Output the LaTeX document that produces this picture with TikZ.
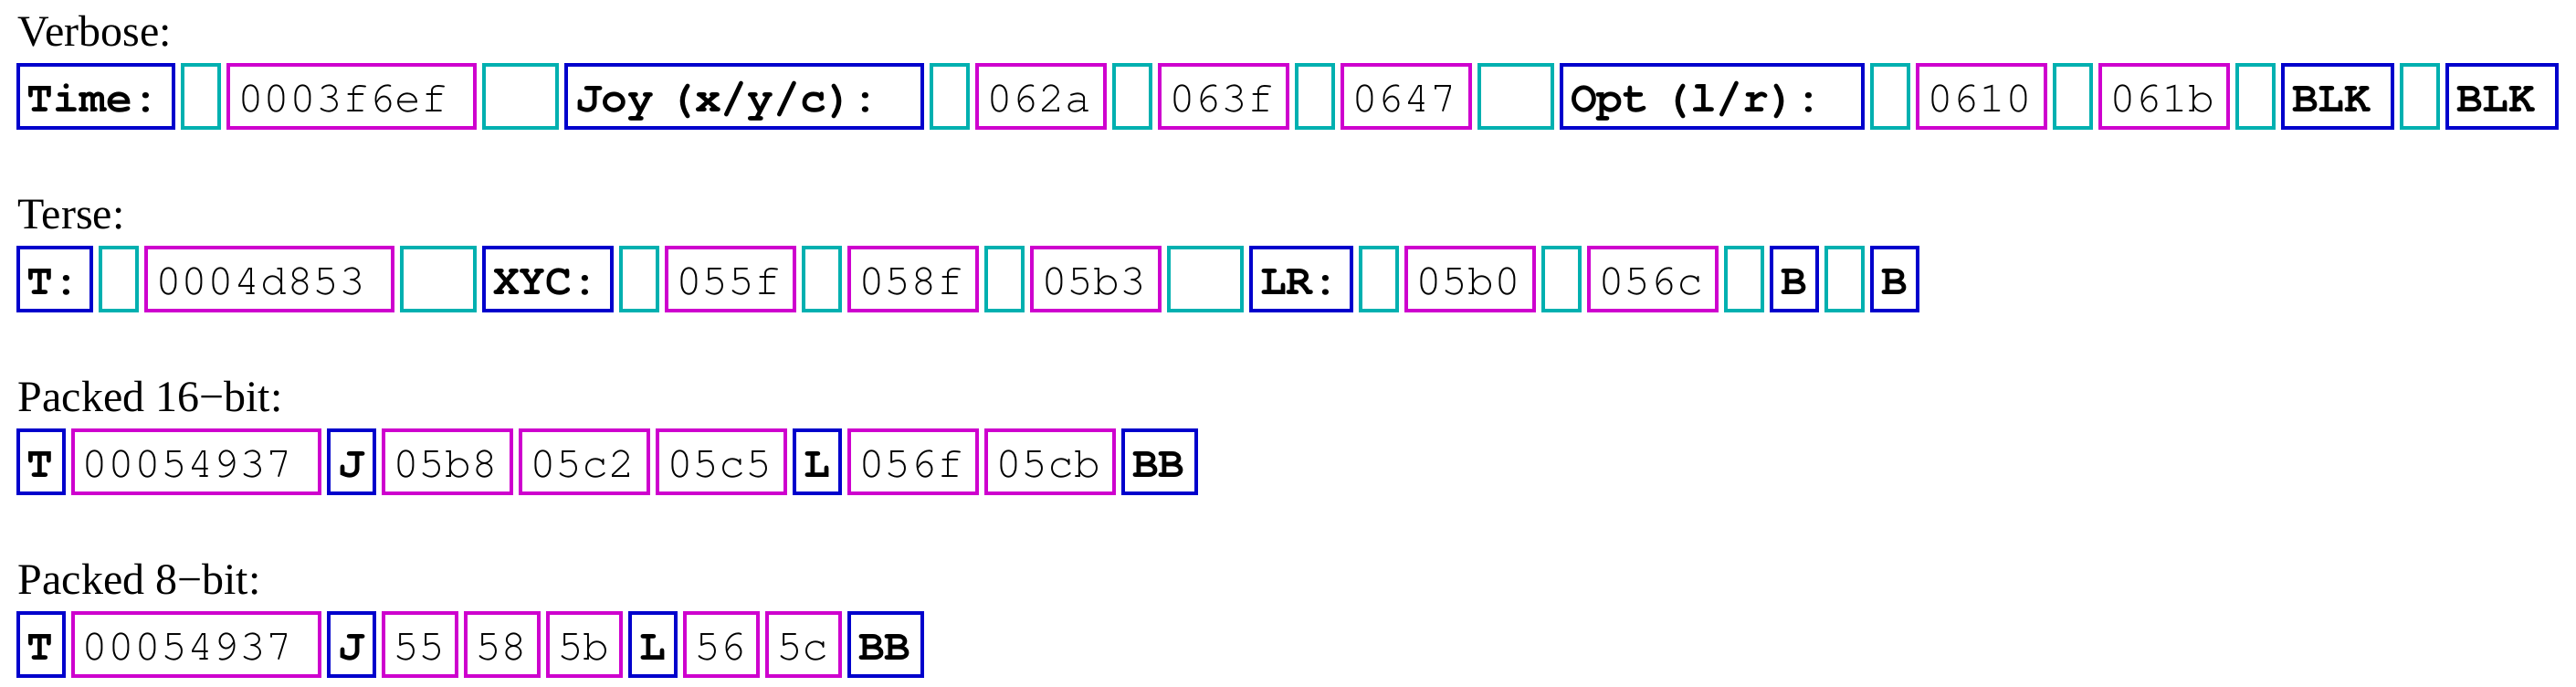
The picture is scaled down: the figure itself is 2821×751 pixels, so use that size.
\documentclass[tikz,border=0pt]{standalone}
\usepackage{fontspec}
\setmainfont{Liberation Serif}
\setmonofont{TeX Gyre Cursor}
\usepackage{xcolor}
\usetikzlibrary{positioning}
\definecolor{keyblue}{RGB}{0,0,204}
\definecolor{valmag}{RGB}{206,0,206}
\definecolor{sepcyan}{RGB}{0,176,176}
\tikzset{
	cell/.style={
			draw, line width=1pt, inner xsep=2.5pt, inner ysep=0pt,
			text height=12.75pt, text depth=4.5pt, align=left,
			font=\fontsize{12}{14}\selectfont\ttfamily,
			/utils/exec={\pgfmathsetmacro\cellwd{(#1-24)/4}},
			text width=\cellwd pt
		},
	key/.style={cell=#1, draw=keyblue, font=\fontsize{12}{14}\selectfont\ttfamily\bfseries},
	val/.style={cell=#1, draw=valmag},
	gap/.style={cell=#1, draw=sepcyan},
	head/.style={anchor=base west, inner sep=0pt, font=\fontsize{12}{14}\selectfont}
}

\begin{document}
\begin{tikzpicture}[x=0.25pt, y=-0.25pt]
			\useasboundingbox (0,0) rectangle (2821,751);
			% verbose
			\node[head] (verbose) at (19,50) {Verbose:};
			\node[key=174, anchor=west] (v1) at (18,105.5) {Time:};
			\node[gap=44, right=1.5pt of v1] (v2) {};
			\node[val=274, right=1.5pt of v2] (v3) {0003f6ef};
			\node[gap=84, right=1.5pt of v3] (v4) {};
			\node[key=394, right=1.5pt of v4] (v5) {Joy (x/y/c):};
			\node[gap=44, right=1.5pt of v5] (v6) {};
			\node[val=144, right=1.5pt of v6] (v7) {062a};
			\node[gap=44, right=1.5pt of v7] (v8) {};
			\node[val=144, right=1.5pt of v8] (v9) {063f};
			\node[gap=44, right=1.5pt of v9] (v10) {};
			\node[val=144, right=1.5pt of v10] (v11) {0647};
			\node[gap=84, right=1.5pt of v11] (v12) {};
			\node[key=334, right=1.5pt of v12] (v13) {Opt (l/r):};
			\node[gap=44, right=1.5pt of v13] (v14) {};
			\node[val=144, right=1.5pt of v14] (v15) {0610};
			\node[gap=44, right=1.5pt of v15] (v16) {};
			\node[val=144, right=1.5pt of v16] (v17) {061b};
			\node[gap=44, right=1.5pt of v17] (v18) {};
			\node[key=124, right=1.5pt of v18] (v19) {BLK};
			\node[gap=44, right=1.5pt of v19] (v20) {};
			\node[key=124, right=1.5pt of v20] (v21) {BLK};
			% terse
			\node[head] (terse) at (19,250) {Terse:};
			\node[key=84, anchor=west] (t1) at (18,305.5) {T:};
			\node[gap=44, right=1.5pt of t1] (t2) {};
			\node[val=274, right=1.5pt of t2] (t3) {0004d853};
			\node[gap=84, right=1.5pt of t3] (t4) {};
			\node[key=144, right=1.5pt of t4] (t5) {XYC:};
			\node[gap=44, right=1.5pt of t5] (t6) {};
			\node[val=144, right=1.5pt of t6] (t7) {055f};
			\node[gap=44, right=1.5pt of t7] (t8) {};
			\node[val=144, right=1.5pt of t8] (t9) {058f};
			\node[gap=44, right=1.5pt of t9] (t10) {};
			\node[val=144, right=1.5pt of t10] (t11) {05b3};
			\node[gap=84, right=1.5pt of t11] (t12) {};
			\node[key=114, right=1.5pt of t12] (t13) {LR:};
			\node[gap=44, right=1.5pt of t13] (t14) {};
			\node[val=144, right=1.5pt of t14] (t15) {05b0};
			\node[gap=44, right=1.5pt of t15] (t16) {};
			\node[val=144, right=1.5pt of t16] (t17) {056c};
			\node[gap=44, right=1.5pt of t17] (t18) {};
			\node[key=54, right=1.5pt of t18] (t19) {B};
			\node[gap=44, right=1.5pt of t19] (t20) {};
			\node[key=54, right=1.5pt of t20] (t21) {B};
			% packed 16-bit
			\node[head] (packsix) at (19,450) {Packed 16−bit:};
			\node[key=54, anchor=west] (p1) at (18,505.5) {T};
			\node[val=274, right=1.5pt of p1] (p2) {00054937};
			\node[key=54, right=1.5pt of p2] (p3) {J};
			\node[val=144, right=1.5pt of p3] (p4) {05b8};
			\node[val=144, right=1.5pt of p4] (p5) {05c2};
			\node[val=144, right=1.5pt of p5] (p6) {05c5};
			\node[key=54, right=1.5pt of p6] (p7) {L};
			\node[val=144, right=1.5pt of p7] (p8) {056f};
			\node[val=144, right=1.5pt of p8] (p9) {05cb};
			\node[key=84, right=1.5pt of p9] (p10) {BB};
			% packed 8-bit
			\node[head] (packeight) at (19,650) {Packed 8−bit:};
			\node[key=54, anchor=west] (q1) at (18,705.5) {T};
			\node[val=274, right=1.5pt of q1] (q2) {00054937};
			\node[key=54, right=1.5pt of q2] (q3) {J};
			\node[val=84, right=1.5pt of q3] (q4) {55};
			\node[val=84, right=1.5pt of q4] (q5) {58};
			\node[val=84, right=1.5pt of q5] (q6) {5b};
			\node[key=54, right=1.5pt of q6] (q7) {L};
			\node[val=84, right=1.5pt of q7] (q8) {56};
			\node[val=84, right=1.5pt of q8] (q9) {5c};
			\node[key=84, right=1.5pt of q9] (q10) {BB};
		\end{tikzpicture}
\end{document}
